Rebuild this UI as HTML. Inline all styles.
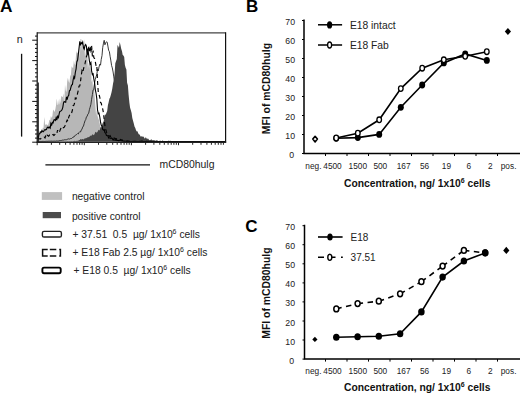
<!DOCTYPE html>
<html><head><meta charset="utf-8"><style>
html,body{margin:0;padding:0;background:#fff;width:520px;height:393px;overflow:hidden}
svg{display:block}
text{font-family:"Liberation Sans", sans-serif}
</style></head><body>
<svg width="520" height="393" viewBox="0 0 520 393">
<text x="0.1" y="12.3" font-size="17.3" font-weight="bold" fill="#000">A</text>
<path d="M37.6,141.6 L37.6,128.2 L38.3,136.6 L39.1,130.6 L39.8,132.0 L40.6,131.2 L41.3,129.9 L42.0,132.7 L42.8,127.7 L43.5,128.1 L44.3,117.0 L45.0,123.9 L45.7,124.9 L46.5,124.3 L47.2,124.8 L48.0,125.3 L48.7,122.9 L49.4,119.7 L50.2,120.6 L50.9,116.0 L51.7,118.0 L52.4,115.9 L53.1,109.6 L53.9,110.8 L54.6,112.1 L55.4,109.1 L56.1,104.9 L56.8,98.5 L57.6,105.3 L58.3,104.2 L59.1,98.5 L59.8,104.7 L60.5,101.4 L61.3,96.1 L62.0,96.4 L62.8,97.3 L63.5,93.2 L64.2,104.7 L65.0,84.8 L65.7,90.6 L66.5,91.9 L67.2,81.3 L67.9,77.7 L68.7,81.6 L69.4,83.0 L70.2,76.1 L70.9,75.0 L71.6,66.2 L72.4,67.6 L73.1,68.2 L73.9,60.4 L74.6,64.0 L75.3,64.9 L76.1,53.9 L76.8,51.2 L77.6,53.0 L78.3,53.2 L79.0,44.5 L79.8,59.0 L80.5,38.9 L81.3,39.2 L82.0,51.6 L82.7,41.7 L83.5,48.4 L84.2,39.1 L85.0,57.0 L85.7,52.8 L86.4,46.2 L87.2,47.0 L87.9,68.9 L88.7,63.2 L89.4,62.5 L90.1,71.3 L90.9,64.3 L91.6,82.3 L92.4,79.3 L93.1,90.2 L93.8,84.2 L94.6,95.7 L95.3,104.4 L96.1,115.8 L96.8,109.2 L97.5,115.7 L98.3,118.7 L99.0,120.0 L99.8,124.0 L100.5,128.1 L101.2,130.1 L102.0,131.6 L102.7,128.8 L103.5,135.3 L104.2,134.9 L104.9,135.4 L105.7,135.4 L106.4,135.7 L107.2,138.7 L107.9,139.8 L108.6,138.3 L109.4,137.5 L110.1,138.3 L110.9,139.1 L111.6,139.9 L112.3,139.6 L113.1,140.2 L113.8,139.7 L114.6,140.9 L115.3,140.5 L116.0,140.8 L116.8,140.5 L117.5,140.8 L118.3,139.9 L119.0,140.5 L119.7,140.7 L120.5,141.6 L121.2,141.5 L122.0,141.6 L122.7,141.4 L123.4,141.6 L124.2,141.5 L124.9,141.6 L125.7,141.6 L126.4,141.6 L127.1,141.6 L127.9,141.6 L128.6,141.6 L129.4,141.6 L130.1,141.6 L130.8,141.6 L131.6,141.6 L132.3,141.6 L133.1,141.6 L133.8,141.6 L134.5,141.6 L135.3,141.6 L136.0,141.6 L136.8,141.6 L137.5,141.6 L138.2,141.6 L139.0,141.6 L139.7,141.6 L140.5,141.6 L141.2,141.6 L141.9,141.6 L142.7,141.6 L143.4,141.6 L144.2,141.6 L144.9,141.6 L145.6,141.6 L146.4,141.6 L147.1,141.6 L147.9,141.6 L148.6,141.6 L149.3,141.6 L150.1,141.6 L150.8,141.6 L151.6,141.6 L152.3,141.6 L153.0,141.6 L153.8,141.6 L154.5,141.6 L155.3,141.6 L156.0,141.6 L156.7,141.6 L157.5,141.6 L158.2,141.6 L159.0,141.6 L159.7,141.6 L160.4,141.6 L161.2,141.6 L161.9,141.6 L162.7,141.6 L163.4,141.6 L164.1,141.6 L164.9,141.6 L165.6,141.6 L166.4,141.6 L167.1,141.6 L167.8,141.6 L168.6,141.6 L169.3,141.6 L170.1,141.6 L170.8,141.6 L171.5,141.6 L172.3,141.6 L173.0,141.6 L173.8,141.6 L174.5,141.6 L175.2,141.6 L176.0,141.6 L176.7,141.6 L177.5,141.6 L178.2,141.6 L178.9,141.6 L179.7,141.6 L180.4,141.6 L181.2,141.6 L181.9,141.6 L182.6,141.6 L183.4,141.6 L184.1,141.6 L184.9,141.6 L185.6,141.6 L186.3,141.6 L187.1,141.6 L187.8,141.6 L188.6,141.6 L189.3,141.6 L190.0,141.6 L190.8,141.6 L191.5,141.6 L192.3,141.6 L193.0,141.6 L193.7,141.6 L194.5,141.6 L195.2,141.6 L196.0,141.6 L196.7,141.6 L197.4,141.6 L198.2,141.6 L198.9,141.6 L199.7,141.6 L200.4,141.6 L201.1,141.6 L201.9,141.6 L202.6,141.6 L203.4,141.6 L204.1,141.6 L204.8,141.6 L205.6,141.6 L206.3,141.6 L207.1,141.6 L207.8,141.6 L208.5,141.6 L209.3,141.6 L210.0,141.6 L210.8,141.6 L211.5,141.6 L212.2,141.6 L213.0,141.6 L213.7,141.6 L214.5,141.6 L215.2,141.6 L215.9,141.6 L216.7,141.6 L217.4,141.6 L218.2,141.6 L218.9,141.6 L219.6,141.6 L220.4,141.6 L221.1,141.6 L221.9,141.6 L222.6,141.6 L223.3,141.6 L224.1,141.6 L224.8,141.6 L224.8,141.6 Z" fill="#b7b7b7"/>
<path d="M37.6,141.5 L38.3,141.4 L39.1,141.4 L39.8,141.5 L40.6,141.5 L41.3,141.5 L42.0,141.4 L42.8,141.4 L43.5,141.4 L44.3,141.5 L45.0,141.3 L45.7,141.4 L46.5,141.3 L47.2,141.3 L48.0,141.3 L48.7,141.2 L49.4,141.2 L50.2,141.2 L50.9,141.2 L51.7,141.1 L52.4,141.2 L53.1,141.3 L53.9,141.0 L54.6,141.1 L55.4,141.2 L56.1,141.0 L56.8,140.9 L57.6,141.0 L58.3,141.0 L59.1,140.7 L59.8,140.5 L60.5,140.5 L61.3,140.5 L62.0,140.2 L62.8,140.1 L63.5,140.1 L64.2,139.9 L65.0,139.6 L65.7,139.8 L66.5,139.7 L67.2,139.3 L67.9,139.2 L68.7,138.8 L69.4,139.1 L70.2,138.7 L70.9,138.5 L71.6,138.5 L72.4,137.6 L73.1,137.1 L73.9,137.1 L74.6,135.8 L75.3,135.4 L76.1,134.9 L76.8,134.4 L77.6,133.6 L78.3,134.0 L79.0,132.5 L79.8,131.7 L80.5,132.0 L81.3,130.0 L82.0,129.1 L82.7,127.1 L83.5,126.0 L84.2,123.4 L85.0,120.8 L85.7,119.7 L86.4,117.0 L87.2,116.1 L87.9,114.1 L88.7,113.2 L89.4,109.7 L90.1,107.3 L90.9,104.3 L91.6,99.3 L92.4,94.5 L93.1,89.9 L93.8,89.5 L94.6,82.7 L95.3,79.4 L96.1,76.6 L96.8,74.6 L97.5,69.3 L98.3,70.9 L99.0,67.0 L99.8,64.2 L100.5,65.2 L101.2,59.6 L102.0,55.6 L102.7,47.7 L103.5,43.1 L104.2,40.3 L104.9,44.8 L105.7,42.8 L106.4,41.8 L107.2,42.2 L107.9,46.1 L108.6,50.2 L109.4,51.7 L110.1,56.3 L110.9,60.9 L111.6,65.6 L112.3,67.9 L113.1,72.0 L113.8,76.9 L114.6,82.1 L115.3,88.6 L116.0,93.2 L116.8,97.2 L117.5,104.3 L118.3,111.2 L119.0,114.0 L119.7,118.6 L120.5,121.1 L121.2,125.4 L122.0,128.1 L122.7,130.6 L123.4,131.0 L124.2,132.1 L124.9,134.9 L125.7,135.9 L126.4,136.2 L127.1,137.4 L127.9,137.8 L128.6,138.4 L129.4,138.7 L130.1,139.0 L130.8,139.6 L131.6,139.7 L132.3,140.2 L133.1,140.3 L133.8,140.9 L134.5,140.9 L135.3,140.8 L136.0,141.1 L136.8,141.1 L137.5,141.3 L138.2,141.3 L139.0,141.4 L139.7,141.4 L140.5,141.5 L141.2,141.5 L141.9,141.5 L142.7,141.5 L143.4,141.6 L144.2,141.5 L144.9,141.5 L145.6,141.5 L146.4,141.5 L147.1,141.6 L147.9,141.5 L148.6,141.5 L149.3,141.5 L150.1,141.5 L150.8,141.6 L151.6,141.6 L152.3,141.5 L153.0,141.5 L153.8,141.5 L154.5,141.5 L155.3,141.6 L156.0,141.5 L156.7,141.5 L157.5,141.5 L158.2,141.5 L159.0,141.5 L159.7,141.5 L160.4,141.6 L161.2,141.6 L161.9,141.6 L162.7,141.6 L163.4,141.6 L164.1,141.5 L164.9,141.5 L165.6,141.6 L166.4,141.6 L167.1,141.6 L167.8,141.6 L168.6,141.6 L169.3,141.6 L170.1,141.6 L170.8,141.6 L171.5,141.6 L172.3,141.6 L173.0,141.6 L173.8,141.6 L174.5,141.6 L175.2,141.6 L176.0,141.6 L176.7,141.6 L177.5,141.6 L178.2,141.6 L178.9,141.6 L179.7,141.6 L180.4,141.6 L181.2,141.6 L181.9,141.6 L182.6,141.6 L183.4,141.6 L184.1,141.6 L184.9,141.6 L185.6,141.6 L186.3,141.6 L187.1,141.6 L187.8,141.6 L188.6,141.6 L189.3,141.6 L190.0,141.6 L190.8,141.6 L191.5,141.6 L192.3,141.6 L193.0,141.6 L193.7,141.6 L194.5,141.6 L195.2,141.6 L196.0,141.6 L196.7,141.6 L197.4,141.6 L198.2,141.6 L198.9,141.6 L199.7,141.6 L200.4,141.6 L201.1,141.6 L201.9,141.6 L202.6,141.6 L203.4,141.6 L204.1,141.6 L204.8,141.6 L205.6,141.6 L206.3,141.6 L207.1,141.6 L207.8,141.6 L208.5,141.6 L209.3,141.6 L210.0,141.6 L210.8,141.6 L211.5,141.6 L212.2,141.6 L213.0,141.6 L213.7,141.6 L214.5,141.6 L215.2,141.6 L215.9,141.6 L216.7,141.6 L217.4,141.6 L218.2,141.6 L218.9,141.6 L219.6,141.6 L220.4,141.6 L221.1,141.6 L221.9,141.6 L222.6,141.6 L223.3,141.6 L224.1,141.6 L224.8,141.6" fill="none" stroke="#222" stroke-width="0.9"/>
<path d="M37.6,141.6 L37.6,141.6 L38.3,141.6 L39.1,141.6 L39.8,141.6 L40.6,141.6 L41.3,141.6 L42.0,141.6 L42.8,141.6 L43.5,141.6 L44.3,141.6 L45.0,141.6 L45.7,141.6 L46.5,141.6 L47.2,141.6 L48.0,141.6 L48.7,141.6 L49.4,141.6 L50.2,141.6 L50.9,141.6 L51.7,141.6 L52.4,141.6 L53.1,141.6 L53.9,141.6 L54.6,141.6 L55.4,141.6 L56.1,141.6 L56.8,141.6 L57.6,141.6 L58.3,141.6 L59.1,141.6 L59.8,141.6 L60.5,141.6 L61.3,141.6 L62.0,141.6 L62.8,141.6 L63.5,141.6 L64.2,141.6 L65.0,141.6 L65.7,141.5 L66.5,141.6 L67.2,141.3 L67.9,141.3 L68.7,141.6 L69.4,141.3 L70.2,141.5 L70.9,141.3 L71.6,141.2 L72.4,141.6 L73.1,141.2 L73.9,141.1 L74.6,140.8 L75.3,141.3 L76.1,140.7 L76.8,141.1 L77.6,140.8 L78.3,140.8 L79.0,139.9 L79.8,140.0 L80.5,139.1 L81.3,139.6 L82.0,139.2 L82.7,139.0 L83.5,139.4 L84.2,138.9 L85.0,137.9 L85.7,138.5 L86.4,137.9 L87.2,137.8 L87.9,137.0 L88.7,137.3 L89.4,136.7 L90.1,135.9 L90.9,135.5 L91.6,135.7 L92.4,133.9 L93.1,135.2 L93.8,134.7 L94.6,134.3 L95.3,131.8 L96.1,132.4 L96.8,132.4 L97.5,132.0 L98.3,129.8 L99.0,130.6 L99.8,130.0 L100.5,127.0 L101.2,127.8 L102.0,125.2 L102.7,123.1 L103.5,121.7 L104.2,118.9 L104.9,114.4 L105.7,114.7 L106.4,113.0 L107.2,111.0 L107.9,105.2 L108.6,102.6 L109.4,98.8 L110.1,97.5 L110.9,94.7 L111.6,92.1 L112.3,88.4 L113.1,83.2 L113.8,80.0 L114.6,73.4 L115.3,63.3 L116.0,61.2 L116.8,59.1 L117.5,45.0 L118.3,46.2 L119.0,48.1 L119.7,41.9 L120.5,45.2 L121.2,48.8 L122.0,51.2 L122.7,54.9 L123.4,55.4 L124.2,56.9 L124.9,65.1 L125.7,67.9 L126.4,69.6 L127.1,82.7 L127.9,85.6 L128.6,94.8 L129.4,102.8 L130.1,107.7 L130.8,110.0 L131.6,112.9 L132.3,118.1 L133.1,121.0 L133.8,123.4 L134.5,126.4 L135.3,128.0 L136.0,130.2 L136.8,131.5 L137.5,131.3 L138.2,133.2 L139.0,134.4 L139.7,134.6 L140.5,136.4 L141.2,136.5 L141.9,136.2 L142.7,136.7 L143.4,136.5 L144.2,137.7 L144.9,138.8 L145.6,137.2 L146.4,138.0 L147.1,139.3 L147.9,138.3 L148.6,139.2 L149.3,140.2 L150.1,139.7 L150.8,139.9 L151.6,139.2 L152.3,140.3 L153.0,140.2 L153.8,140.3 L154.5,140.5 L155.3,140.7 L156.0,140.4 L156.7,140.3 L157.5,140.5 L158.2,141.0 L159.0,141.1 L159.7,140.8 L160.4,141.1 L161.2,141.1 L161.9,141.4 L162.7,140.6 L163.4,140.9 L164.1,141.3 L164.9,140.9 L165.6,140.9 L166.4,141.6 L167.1,141.3 L167.8,141.3 L168.6,141.1 L169.3,141.3 L170.1,141.3 L170.8,141.3 L171.5,141.1 L172.3,141.0 L173.0,141.4 L173.8,141.5 L174.5,141.0 L175.2,141.5 L176.0,141.5 L176.7,141.4 L177.5,141.4 L178.2,141.3 L178.9,141.4 L179.7,141.6 L180.4,141.4 L181.2,141.5 L181.9,141.3 L182.6,141.5 L183.4,141.6 L184.1,141.6 L184.9,141.4 L185.6,141.6 L186.3,141.6 L187.1,141.6 L187.8,141.5 L188.6,141.5 L189.3,141.6 L190.0,141.5 L190.8,141.5 L191.5,141.6 L192.3,141.6 L193.0,141.5 L193.7,141.5 L194.5,141.6 L195.2,141.6 L196.0,141.6 L196.7,141.6 L197.4,141.6 L198.2,141.6 L198.9,141.6 L199.7,141.6 L200.4,141.6 L201.1,141.6 L201.9,141.6 L202.6,141.6 L203.4,141.6 L204.1,141.6 L204.8,141.6 L205.6,141.6 L206.3,141.6 L207.1,141.6 L207.8,141.6 L208.5,141.6 L209.3,141.6 L210.0,141.6 L210.8,141.6 L211.5,141.6 L212.2,141.6 L213.0,141.6 L213.7,141.6 L214.5,141.6 L215.2,141.6 L215.9,141.6 L216.7,141.6 L217.4,141.6 L218.2,141.6 L218.9,141.6 L219.6,141.6 L220.4,141.6 L221.1,141.6 L221.9,141.6 L222.6,141.6 L223.3,141.6 L224.1,141.6 L224.8,141.6 L224.8,141.6 Z" fill="#444"/>
<path d="M37.6,138.6 L38.3,138.7 L39.1,138.8 L39.8,138.9 L40.6,139.0 L41.3,138.0 L42.0,138.1 L42.8,137.9 L43.5,137.4 L44.3,137.1 L45.0,137.9 L45.7,136.1 L46.5,137.4 L47.2,135.2 L48.0,135.7 L48.7,136.2 L49.4,135.1 L50.2,135.7 L50.9,135.2 L51.7,135.4 L52.4,134.7 L53.1,134.5 L53.9,135.4 L54.6,134.9 L55.4,133.6 L56.1,133.1 L56.8,133.7 L57.6,130.1 L58.3,132.6 L59.1,132.1 L59.8,131.0 L60.5,129.1 L61.3,127.7 L62.0,128.9 L62.8,128.5 L63.5,127.5 L64.2,127.3 L65.0,125.7 L65.7,124.9 L66.5,121.7 L67.2,120.0 L67.9,121.3 L68.7,117.3 L69.4,115.6 L70.2,113.9 L70.9,114.2 L71.6,113.0 L72.4,110.1 L73.1,105.7 L73.9,105.2 L74.6,102.9 L75.3,98.0 L76.1,98.6 L76.8,96.7 L77.6,93.2 L78.3,90.3 L79.0,86.2 L79.8,85.8 L80.5,81.6 L81.3,75.0 L82.0,70.8 L82.7,72.5 L83.5,69.0 L84.2,65.8 L85.0,63.7 L85.7,60.4 L86.4,56.7 L87.2,54.6 L87.9,52.6 L88.7,46.9 L89.4,51.1 L90.1,46.0 L90.9,53.2 L91.6,45.8 L92.4,56.4 L93.1,50.6 L93.8,57.5 L94.6,58.6 L95.3,61.6 L96.1,66.0 L96.8,65.3 L97.5,80.8 L98.3,92.7 L99.0,94.4 L99.8,97.3 L100.5,102.4 L101.2,103.1 L102.0,106.6 L102.7,108.9 L103.5,113.2 L104.2,119.8 L104.9,125.5 L105.7,129.2 L106.4,131.7 L107.2,134.2 L107.9,134.8 L108.6,135.7 L109.4,136.3 L110.1,135.7 L110.9,137.4 L111.6,137.4 L112.3,137.2 L113.1,138.0 L113.8,138.2 L114.6,138.1 L115.3,138.7 L116.0,138.9 L116.8,138.9 L117.5,139.1 L118.3,139.6 L119.0,139.9 L119.7,139.7 L120.5,139.4 L121.2,140.0 L122.0,139.8 L122.7,140.2 L123.4,140.5 L124.2,141.2 L124.9,140.7 L125.7,140.9 L126.4,141.3 L127.1,141.0 L127.9,141.2 L128.6,141.2 L129.4,141.4 L130.1,141.3 L130.8,141.4 L131.6,141.2 L132.3,141.3 L133.1,141.5 L133.8,141.3 L134.5,141.3 L135.3,141.4 L136.0,141.5 L136.8,141.2 L137.5,141.4 L138.2,141.2 L139.0,141.4 L139.7,141.4 L140.5,141.4 L141.2,141.4 L141.9,141.1 L142.7,141.4 L143.4,141.2 L144.2,141.3 L144.9,141.5 L145.6,141.3 L146.4,141.3 L147.1,141.3 L147.9,141.5 L148.6,141.4 L149.3,141.5 L150.1,141.5 L150.8,141.5 L151.6,141.4 L152.3,141.3 L153.0,141.4 L153.8,141.6 L154.5,141.4 L155.3,141.5 L156.0,141.5 L156.7,141.6 L157.5,141.4 L158.2,141.5 L159.0,141.4 L159.7,141.5 L160.4,141.4 L161.2,141.5 L161.9,141.6 L162.7,141.4 L163.4,141.5 L164.1,141.5 L164.9,141.5 L165.6,141.6 L166.4,141.6 L167.1,141.6 L167.8,141.5 L168.6,141.4 L169.3,141.5 L170.1,141.4 L170.8,141.6 L171.5,141.5 L172.3,141.6 L173.0,141.5 L173.8,141.5 L174.5,141.5 L175.2,141.5 L176.0,141.5 L176.7,141.6 L177.5,141.6 L178.2,141.5 L178.9,141.4 L179.7,141.6 L180.4,141.5 L181.2,141.6 L181.9,141.6 L182.6,141.6 L183.4,141.5 L184.1,141.6 L184.9,141.6 L185.6,141.6 L186.3,141.5 L187.1,141.6 L187.8,141.6 L188.6,141.6 L189.3,141.6 L190.0,141.6 L190.8,141.6 L191.5,141.6 L192.3,141.6 L193.0,141.6 L193.7,141.6 L194.5,141.6 L195.2,141.6 L196.0,141.6 L196.7,141.6 L197.4,141.6 L198.2,141.6 L198.9,141.6 L199.7,141.6 L200.4,141.6 L201.1,141.6 L201.9,141.6 L202.6,141.6 L203.4,141.6 L204.1,141.6 L204.8,141.6 L205.6,141.6 L206.3,141.6 L207.1,141.6 L207.8,141.6 L208.5,141.6 L209.3,141.6 L210.0,141.6 L210.8,141.6 L211.5,141.6 L212.2,141.6 L213.0,141.6 L213.7,141.6 L214.5,141.6 L215.2,141.6 L215.9,141.6 L216.7,141.6 L217.4,141.6 L218.2,141.6 L218.9,141.6 L219.6,141.6 L220.4,141.6 L221.1,141.6 L221.9,141.6 L222.6,141.6 L223.3,141.6 L224.1,141.6 L224.8,141.6" fill="none" stroke="#000" stroke-width="1.15" stroke-dasharray="4,3"/>
<path d="M37.6,135.8 L38.3,137.8 L39.1,133.7 L39.8,133.7 L40.6,132.0 L41.3,132.3 L42.0,130.5 L42.8,131.7 L43.5,131.7 L44.3,130.1 L45.0,129.7 L45.7,129.9 L46.5,129.3 L47.2,127.7 L48.0,127.1 L48.7,127.9 L49.4,127.1 L50.2,128.2 L50.9,123.4 L51.7,125.0 L52.4,122.4 L53.1,122.8 L53.9,120.0 L54.6,119.7 L55.4,120.4 L56.1,117.8 L56.8,120.1 L57.6,115.6 L58.3,118.3 L59.1,114.1 L59.8,111.4 L60.5,111.3 L61.3,110.7 L62.0,109.8 L62.8,107.3 L63.5,103.0 L64.2,101.5 L65.0,101.9 L65.7,102.2 L66.5,96.8 L67.2,99.6 L67.9,96.4 L68.7,95.4 L69.4,90.8 L70.2,90.1 L70.9,87.3 L71.6,85.0 L72.4,84.7 L73.1,80.2 L73.9,76.7 L74.6,78.1 L75.3,72.6 L76.1,68.8 L76.8,62.0 L77.6,60.0 L78.3,54.4 L79.0,48.8 L79.8,41.3 L80.5,44.5 L81.3,42.8 L82.0,43.7 L82.7,42.0 L83.5,47.9 L84.2,49.2 L85.0,45.6 L85.7,44.6 L86.4,46.1 L87.2,54.5 L87.9,48.6 L88.7,55.5 L89.4,60.8 L90.1,64.1 L90.9,62.6 L91.6,70.9 L92.4,74.6 L93.1,73.9 L93.8,78.7 L94.6,82.9 L95.3,89.6 L96.1,93.5 L96.8,98.8 L97.5,109.8 L98.3,113.7 L99.0,113.2 L99.8,117.0 L100.5,121.9 L101.2,125.1 L102.0,126.3 L102.7,129.4 L103.5,130.1 L104.2,129.7 L104.9,132.7 L105.7,133.1 L106.4,135.3 L107.2,135.7 L107.9,135.7 L108.6,138.0 L109.4,137.8 L110.1,138.1 L110.9,138.3 L111.6,138.0 L112.3,138.7 L113.1,140.0 L113.8,139.7 L114.6,140.1 L115.3,140.3 L116.0,139.3 L116.8,140.6 L117.5,140.3 L118.3,140.8 L119.0,140.4 L119.7,140.7 L120.5,140.8 L121.2,141.0 L122.0,140.8 L122.7,141.3 L123.4,141.3 L124.2,141.4 L124.9,141.0 L125.7,141.3 L126.4,141.5 L127.1,141.4 L127.9,141.1 L128.6,141.5 L129.4,141.4 L130.1,141.5 L130.8,141.5 L131.6,141.6 L132.3,141.6 L133.1,141.6 L133.8,141.6 L134.5,141.6 L135.3,141.6 L136.0,141.6 L136.8,141.6 L137.5,141.6 L138.2,141.6 L139.0,141.6 L139.7,141.6 L140.5,141.6 L141.2,141.6 L141.9,141.6 L142.7,141.6 L143.4,141.6 L144.2,141.6 L144.9,141.6 L145.6,141.6 L146.4,141.6 L147.1,141.6 L147.9,141.6 L148.6,141.6 L149.3,141.6 L150.1,141.6 L150.8,141.6 L151.6,141.6 L152.3,141.6 L153.0,141.6 L153.8,141.6 L154.5,141.6 L155.3,141.6 L156.0,141.6 L156.7,141.6 L157.5,141.6 L158.2,141.6 L159.0,141.6 L159.7,141.6 L160.4,141.6 L161.2,141.6 L161.9,141.6 L162.7,141.6 L163.4,141.6 L164.1,141.6 L164.9,141.6 L165.6,141.6 L166.4,141.6 L167.1,141.6 L167.8,141.6 L168.6,141.6 L169.3,141.6 L170.1,141.6 L170.8,141.6 L171.5,141.6 L172.3,141.6 L173.0,141.6 L173.8,141.6 L174.5,141.6 L175.2,141.6 L176.0,141.6 L176.7,141.6 L177.5,141.6 L178.2,141.6 L178.9,141.6 L179.7,141.6 L180.4,141.6 L181.2,141.6 L181.9,141.6 L182.6,141.6 L183.4,141.6 L184.1,141.6 L184.9,141.6 L185.6,141.6 L186.3,141.6 L187.1,141.6 L187.8,141.6 L188.6,141.6 L189.3,141.6 L190.0,141.6 L190.8,141.6 L191.5,141.6 L192.3,141.6 L193.0,141.6 L193.7,141.6 L194.5,141.6 L195.2,141.6 L196.0,141.6 L196.7,141.6 L197.4,141.6 L198.2,141.6 L198.9,141.6 L199.7,141.6 L200.4,141.6 L201.1,141.6 L201.9,141.6 L202.6,141.6 L203.4,141.6 L204.1,141.6 L204.8,141.6 L205.6,141.6 L206.3,141.6 L207.1,141.6 L207.8,141.6 L208.5,141.6 L209.3,141.6 L210.0,141.6 L210.8,141.6 L211.5,141.6 L212.2,141.6 L213.0,141.6 L213.7,141.6 L214.5,141.6 L215.2,141.6 L215.9,141.6 L216.7,141.6 L217.4,141.6 L218.2,141.6 L218.9,141.6 L219.6,141.6 L220.4,141.6 L221.1,141.6 L221.9,141.6 L222.6,141.6 L223.3,141.6 L224.1,141.6 L224.8,141.6" fill="none" stroke="#000" stroke-width="1.1"/>
<path d="M38.2,82.4 V142" stroke="#111" stroke-width="1.2"/>
<path d="M37.2,32.9 H225.6" stroke="#444" stroke-width="1.3"/>
<path d="M37.2,32.3 V142.6 M225.6,32.3 V142.6" stroke="#111" stroke-width="1.2"/>
<path d="M36.6,142.2 H226.2" stroke="#222" stroke-width="1.4"/>
<path d="M32.2,142.2 H37.2" stroke="#111" stroke-width="1"/>
<path d="M35.0,138.1 H37.2" stroke="#111" stroke-width="1"/>
<path d="M35.0,134.0 H37.2" stroke="#111" stroke-width="1"/>
<path d="M35.0,130.0 H37.2" stroke="#111" stroke-width="1"/>
<path d="M35.0,125.9 H37.2" stroke="#111" stroke-width="1"/>
<path d="M32.2,121.8 H37.2" stroke="#111" stroke-width="1"/>
<path d="M35.0,117.7 H37.2" stroke="#111" stroke-width="1"/>
<path d="M35.0,113.6 H37.2" stroke="#111" stroke-width="1"/>
<path d="M35.0,109.6 H37.2" stroke="#111" stroke-width="1"/>
<path d="M35.0,105.5 H37.2" stroke="#111" stroke-width="1"/>
<path d="M32.2,101.4 H37.2" stroke="#111" stroke-width="1"/>
<path d="M35.0,97.3 H37.2" stroke="#111" stroke-width="1"/>
<path d="M35.0,93.2 H37.2" stroke="#111" stroke-width="1"/>
<path d="M35.0,89.2 H37.2" stroke="#111" stroke-width="1"/>
<path d="M35.0,85.1 H37.2" stroke="#111" stroke-width="1"/>
<path d="M32.2,81.0 H37.2" stroke="#111" stroke-width="1"/>
<path d="M35.0,76.9 H37.2" stroke="#111" stroke-width="1"/>
<path d="M35.0,72.8 H37.2" stroke="#111" stroke-width="1"/>
<path d="M35.0,68.8 H37.2" stroke="#111" stroke-width="1"/>
<path d="M35.0,64.7 H37.2" stroke="#111" stroke-width="1"/>
<path d="M32.2,60.6 H37.2" stroke="#111" stroke-width="1"/>
<path d="M35.0,56.5 H37.2" stroke="#111" stroke-width="1"/>
<path d="M35.0,52.4 H37.2" stroke="#111" stroke-width="1"/>
<path d="M35.0,48.4 H37.2" stroke="#111" stroke-width="1"/>
<path d="M35.0,44.3 H37.2" stroke="#111" stroke-width="1"/>
<path d="M32.2,40.2 H37.2" stroke="#111" stroke-width="1"/>
<path d="M35.0,36.1 H37.2" stroke="#111" stroke-width="1"/>
<path d="M37.2,142.2 V145.2" stroke="#222" stroke-width="1"/>
<path d="M51.4,142.2 V144.8" stroke="#222" stroke-width="1"/>
<path d="M59.7,142.2 V144.8" stroke="#222" stroke-width="1"/>
<path d="M65.6,142.2 V144.8" stroke="#222" stroke-width="1"/>
<path d="M70.1,142.2 V144.8" stroke="#222" stroke-width="1"/>
<path d="M73.9,142.2 V144.8" stroke="#222" stroke-width="1"/>
<path d="M77.0,142.2 V144.8" stroke="#222" stroke-width="1"/>
<path d="M79.7,142.2 V144.8" stroke="#222" stroke-width="1"/>
<path d="M82.1,142.2 V144.8" stroke="#222" stroke-width="1"/>
<path d="M84.3,142.2 V145.2" stroke="#222" stroke-width="1"/>
<path d="M98.5,142.2 V144.8" stroke="#222" stroke-width="1"/>
<path d="M106.8,142.2 V144.8" stroke="#222" stroke-width="1"/>
<path d="M112.7,142.2 V144.8" stroke="#222" stroke-width="1"/>
<path d="M117.2,142.2 V144.8" stroke="#222" stroke-width="1"/>
<path d="M121.0,142.2 V144.8" stroke="#222" stroke-width="1"/>
<path d="M124.1,142.2 V144.8" stroke="#222" stroke-width="1"/>
<path d="M126.8,142.2 V144.8" stroke="#222" stroke-width="1"/>
<path d="M129.2,142.2 V144.8" stroke="#222" stroke-width="1"/>
<path d="M131.4,142.2 V145.2" stroke="#222" stroke-width="1"/>
<path d="M145.6,142.2 V144.8" stroke="#222" stroke-width="1"/>
<path d="M153.9,142.2 V144.8" stroke="#222" stroke-width="1"/>
<path d="M159.8,142.2 V144.8" stroke="#222" stroke-width="1"/>
<path d="M164.3,142.2 V144.8" stroke="#222" stroke-width="1"/>
<path d="M168.1,142.2 V144.8" stroke="#222" stroke-width="1"/>
<path d="M171.2,142.2 V144.8" stroke="#222" stroke-width="1"/>
<path d="M173.9,142.2 V144.8" stroke="#222" stroke-width="1"/>
<path d="M176.3,142.2 V144.8" stroke="#222" stroke-width="1"/>
<path d="M178.5,142.2 V145.2" stroke="#222" stroke-width="1"/>
<path d="M192.7,142.2 V144.8" stroke="#222" stroke-width="1"/>
<path d="M201.0,142.2 V144.8" stroke="#222" stroke-width="1"/>
<path d="M206.9,142.2 V144.8" stroke="#222" stroke-width="1"/>
<path d="M211.4,142.2 V144.8" stroke="#222" stroke-width="1"/>
<path d="M215.2,142.2 V144.8" stroke="#222" stroke-width="1"/>
<path d="M218.3,142.2 V144.8" stroke="#222" stroke-width="1"/>
<path d="M221.0,142.2 V144.8" stroke="#222" stroke-width="1"/>
<path d="M223.4,142.2 V144.8" stroke="#222" stroke-width="1"/>
<text x="16.7" y="42.8" font-size="10.8" fill="#222">n</text>
<path d="M21.6,53.8 V136.6" stroke="#111" stroke-width="1.3"/>
<path d="M45.4,164.8 H150" stroke="#111" stroke-width="1.3"/>
<text x="159.6" y="168.2" font-size="10.4" fill="#222">mCD80hulg</text>
<rect x="41.8" y="192.1" width="20.3" height="7.8" fill="#c0c0c0"/>
<rect x="42.7" y="212" width="18.3" height="6.2" fill="#4c4c4c"/>
<text x="71.9" y="200.4" font-size="10.3" fill="#222">negative control</text>
<text x="71.9" y="219.6" font-size="10.3" fill="#222">positive control</text>
<rect x="42.4" y="231.4" width="19" height="5.6" rx="1.6" fill="none" stroke="#222" stroke-width="1.4"/>
<path d="M47.7,249.6 H42.6 V255.9 H47.7 M49.8,249.6 H56.3 M49.8,255.9 H56.3 M59.2,249.6 H60.4 V255.9 H59.2" fill="none" stroke="#111" stroke-width="1.5"/>
<rect x="42.4" y="267.6" width="18.3" height="5.6" rx="1.6" fill="none" stroke="#000" stroke-width="1.9"/>
<text x="72.5" y="238.1" font-size="10.3" fill="#222" xml:space="preserve">+ 37.51  0.5  µg/ 1x10<tspan font-size="7" dy="-4">6</tspan><tspan dy="4"> cells</tspan></text>
<text x="72.5" y="256.3" font-size="10.3" fill="#222" xml:space="preserve">+ E18 Fab 2.5 µg/ 1x10<tspan font-size="7" dy="-4">6</tspan><tspan dy="4"> cells</tspan></text>
<text x="73.5" y="273.5" font-size="10.3" fill="#222" xml:space="preserve">+ E18 0.5  µg/ 1x10<tspan font-size="7" dy="-4">6</tspan><tspan dy="4"> cells</tspan></text>
<path d="M304,19.5 V153.5 H520" fill="none" stroke="#000" stroke-width="1.5"/>
<path d="M302,153.5 H304" stroke="#000" stroke-width="1"/>
<text transform="translate(294.2,158.0) scale(0.9,1)" text-anchor="end" font-size="9.7" fill="#222">0</text>
<path d="M302,134.5 H304" stroke="#000" stroke-width="1"/>
<text transform="translate(295.0,139.0) scale(0.9,1)" text-anchor="end" font-size="9.7" fill="#222">10</text>
<path d="M302,115.5 H304" stroke="#000" stroke-width="1"/>
<text transform="translate(295.0,120.0) scale(0.9,1)" text-anchor="end" font-size="9.7" fill="#222">20</text>
<path d="M302,96.5 H304" stroke="#000" stroke-width="1"/>
<text transform="translate(295.0,101.0) scale(0.9,1)" text-anchor="end" font-size="9.7" fill="#222">30</text>
<path d="M302,77.5 H304" stroke="#000" stroke-width="1"/>
<text transform="translate(295.0,82.0) scale(0.9,1)" text-anchor="end" font-size="9.7" fill="#222">40</text>
<path d="M302,58.5 H304" stroke="#000" stroke-width="1"/>
<text transform="translate(295.0,63.0) scale(0.9,1)" text-anchor="end" font-size="9.7" fill="#222">50</text>
<path d="M302,39.5 H304" stroke="#000" stroke-width="1"/>
<text transform="translate(295.0,44.0) scale(0.9,1)" text-anchor="end" font-size="9.7" fill="#222">60</text>
<path d="M302,20.5 H304" stroke="#000" stroke-width="1"/>
<text transform="translate(295.0,25.0) scale(0.9,1)" text-anchor="end" font-size="9.7" fill="#222">70</text>
<path d="M325.5,153.5 V156.0" stroke="#000" stroke-width="1"/>
<path d="M347.0,153.5 V156.0" stroke="#000" stroke-width="1"/>
<path d="M368.5,153.5 V156.0" stroke="#000" stroke-width="1"/>
<path d="M390.0,153.5 V156.0" stroke="#000" stroke-width="1"/>
<path d="M411.5,153.5 V156.0" stroke="#000" stroke-width="1"/>
<path d="M433.0,153.5 V156.0" stroke="#000" stroke-width="1"/>
<path d="M454.5,153.5 V156.0" stroke="#000" stroke-width="1"/>
<path d="M476.0,153.5 V156.0" stroke="#000" stroke-width="1"/>
<path d="M497.5,153.5 V156.0" stroke="#000" stroke-width="1"/>
<text x="313.4" y="169.0" text-anchor="middle" font-size="8.3" fill="#222">neg.</text>
<text x="332.5" y="169.0" text-anchor="middle" font-size="8.3" fill="#222">4500</text>
<text x="357.8" y="169.0" text-anchor="middle" font-size="8.3" fill="#222">1500</text>
<text x="380.3" y="169.0" text-anchor="middle" font-size="8.3" fill="#222">500</text>
<text x="403.6" y="169.0" text-anchor="middle" font-size="8.3" fill="#222">167</text>
<text x="424.6" y="169.0" text-anchor="middle" font-size="8.3" fill="#222">56</text>
<text x="446.4" y="169.0" text-anchor="middle" font-size="8.3" fill="#222">19</text>
<text x="468.7" y="169.0" text-anchor="middle" font-size="8.3" fill="#222">6</text>
<text x="490.4" y="169.0" text-anchor="middle" font-size="8.3" fill="#222">2</text>
<text x="508.6" y="169.0" text-anchor="middle" font-size="8.3" fill="#222">pos.</text>
<text x="344" y="186.5" font-size="10.3" font-weight="bold" fill="#111">Concentration, ng/ 1x10<tspan font-size="7" dy="-4">6</tspan><tspan dy="4"> cells</tspan></text>
<text transform="translate(270.2,88.6) rotate(-90)" text-anchor="middle" font-size="10.4" font-weight="bold" fill="#111">MFI of mCD80hulg</text>
<text x="246.1" y="12.1" font-size="17" font-weight="bold" fill="#000">B</text>
<path d="M336.2,138.3 L357.8,137.6 L379.2,134.4 L400.8,107.3 L422.2,85.0 L443.8,62.9 L465.2,53.9 L486.8,60.4" stroke="#000" stroke-width="1.6" fill="none"/>
<ellipse cx="336.2" cy="138.3" rx="3.0" ry="3.4" fill="#000"/>
<ellipse cx="357.8" cy="137.6" rx="3.0" ry="3.4" fill="#000"/>
<ellipse cx="379.2" cy="134.4" rx="3.0" ry="3.4" fill="#000"/>
<ellipse cx="400.8" cy="107.3" rx="3.0" ry="3.4" fill="#000"/>
<ellipse cx="422.2" cy="85.0" rx="3.0" ry="3.4" fill="#000"/>
<ellipse cx="443.8" cy="62.9" rx="3.0" ry="3.4" fill="#000"/>
<ellipse cx="465.2" cy="53.9" rx="3.0" ry="3.4" fill="#000"/>
<ellipse cx="486.8" cy="60.4" rx="3.0" ry="3.4" fill="#000"/>
<path d="M336.2,138.0 L357.8,133.2 L379.2,119.8 L400.8,88.6 L422.2,68.2 L443.8,59.8 L465.2,56.3 L486.8,51.7" stroke="#000" stroke-width="1.6" fill="none"/>
<ellipse cx="336.2" cy="138.0" rx="2.3" ry="2.8" fill="#fff" stroke="#000" stroke-width="1.3"/>
<ellipse cx="357.8" cy="133.2" rx="2.3" ry="2.8" fill="#fff" stroke="#000" stroke-width="1.3"/>
<ellipse cx="379.2" cy="119.8" rx="2.3" ry="2.8" fill="#fff" stroke="#000" stroke-width="1.3"/>
<ellipse cx="400.8" cy="88.6" rx="2.3" ry="2.8" fill="#fff" stroke="#000" stroke-width="1.3"/>
<ellipse cx="422.2" cy="68.2" rx="2.3" ry="2.8" fill="#fff" stroke="#000" stroke-width="1.3"/>
<ellipse cx="443.8" cy="59.8" rx="2.3" ry="2.8" fill="#fff" stroke="#000" stroke-width="1.3"/>
<ellipse cx="465.2" cy="56.3" rx="2.3" ry="2.8" fill="#fff" stroke="#000" stroke-width="1.3"/>
<ellipse cx="486.8" cy="51.7" rx="2.3" ry="2.8" fill="#fff" stroke="#000" stroke-width="1.3"/>
<path d="M315.1,136.3 L317.4,139.1 L315.1,141.9 L312.8,139.1 Z" fill="#fff" stroke="#000" stroke-width="1.6" stroke-linejoin="round"/>
<path d="M507.9,27.9 L511.0,31.5 L507.9,35.1 L504.8,31.5 Z" fill="#000"/>
<path d="M318,24.8 H342.1" stroke="#000" stroke-width="1.5"/>
<ellipse cx="329.6" cy="24.9" rx="2.6" ry="3.6" fill="#000"/>
<text x="349.9" y="29.2" font-size="10.3" fill="#222">E18 intact</text>
<path d="M318,45 H342.1" stroke="#000" stroke-width="1.5"/>
<ellipse cx="329.6" cy="45" rx="2.0" ry="3.0" fill="#fff" stroke="#000" stroke-width="1.3"/>
<text x="349.9" y="49.3" font-size="10.3" fill="#222">E18 Fab</text>
<path d="M304.5,224.7 V359.1 H520" fill="none" stroke="#000" stroke-width="1.5"/>
<path d="M302.5,359.1 H304.5" stroke="#000" stroke-width="1"/>
<text transform="translate(294.2,363.6) scale(0.9,1)" text-anchor="end" font-size="9.7" fill="#222">0</text>
<path d="M302.5,340.0 H304.5" stroke="#000" stroke-width="1"/>
<text transform="translate(295.0,344.5) scale(0.9,1)" text-anchor="end" font-size="9.7" fill="#222">10</text>
<path d="M302.5,321.0 H304.5" stroke="#000" stroke-width="1"/>
<text transform="translate(295.0,325.5) scale(0.9,1)" text-anchor="end" font-size="9.7" fill="#222">20</text>
<path d="M302.5,301.9 H304.5" stroke="#000" stroke-width="1"/>
<text transform="translate(295.0,306.4) scale(0.9,1)" text-anchor="end" font-size="9.7" fill="#222">30</text>
<path d="M302.5,282.9 H304.5" stroke="#000" stroke-width="1"/>
<text transform="translate(295.0,287.4) scale(0.9,1)" text-anchor="end" font-size="9.7" fill="#222">40</text>
<path d="M302.5,263.8 H304.5" stroke="#000" stroke-width="1"/>
<text transform="translate(295.0,268.3) scale(0.9,1)" text-anchor="end" font-size="9.7" fill="#222">50</text>
<path d="M302.5,244.7 H304.5" stroke="#000" stroke-width="1"/>
<text transform="translate(295.0,249.2) scale(0.9,1)" text-anchor="end" font-size="9.7" fill="#222">60</text>
<path d="M302.5,225.7 H304.5" stroke="#000" stroke-width="1"/>
<text transform="translate(295.0,230.2) scale(0.9,1)" text-anchor="end" font-size="9.7" fill="#222">70</text>
<path d="M325.5,359.1 V361.6" stroke="#000" stroke-width="1"/>
<path d="M347.0,359.1 V361.6" stroke="#000" stroke-width="1"/>
<path d="M368.5,359.1 V361.6" stroke="#000" stroke-width="1"/>
<path d="M390.0,359.1 V361.6" stroke="#000" stroke-width="1"/>
<path d="M411.5,359.1 V361.6" stroke="#000" stroke-width="1"/>
<path d="M433.0,359.1 V361.6" stroke="#000" stroke-width="1"/>
<path d="M454.5,359.1 V361.6" stroke="#000" stroke-width="1"/>
<path d="M476.0,359.1 V361.6" stroke="#000" stroke-width="1"/>
<path d="M497.5,359.1 V361.6" stroke="#000" stroke-width="1"/>
<text x="313.4" y="374.0" text-anchor="middle" font-size="8.3" fill="#222">neg.</text>
<text x="332.5" y="374.0" text-anchor="middle" font-size="8.3" fill="#222">4500</text>
<text x="357.8" y="374.0" text-anchor="middle" font-size="8.3" fill="#222">1500</text>
<text x="380.3" y="374.0" text-anchor="middle" font-size="8.3" fill="#222">500</text>
<text x="403.6" y="374.0" text-anchor="middle" font-size="8.3" fill="#222">167</text>
<text x="424.6" y="374.0" text-anchor="middle" font-size="8.3" fill="#222">56</text>
<text x="446.4" y="374.0" text-anchor="middle" font-size="8.3" fill="#222">19</text>
<text x="468.7" y="374.0" text-anchor="middle" font-size="8.3" fill="#222">6</text>
<text x="490.4" y="374.0" text-anchor="middle" font-size="8.3" fill="#222">2</text>
<text x="508.6" y="374.0" text-anchor="middle" font-size="8.3" fill="#222">pos.</text>
<text x="344" y="390.6" font-size="10.3" font-weight="bold" fill="#111">Concentration, ng/ 1x10<tspan font-size="7" dy="-4">6</tspan><tspan dy="4"> cells</tspan></text>
<text transform="translate(270.2,293.1) rotate(-90)" text-anchor="middle" font-size="10.4" font-weight="bold" fill="#111">MFI of mCD80hulg</text>
<text x="245.2" y="232.4" font-size="17" font-weight="bold" fill="#000">C</text>
<path d="M336.3,308.9 L357.6,303.6" stroke="#000" stroke-width="1.6" stroke-dasharray="5.5,4.5" fill="none"/>
<path d="M357.6,303.6 L378.8,301.2" stroke="#000" stroke-width="1.6" stroke-dasharray="5.5,4.5" fill="none"/>
<path d="M378.8,301.2 L400.1,293.8" stroke="#000" stroke-width="1.6" stroke-dasharray="5.5,4.5" fill="none"/>
<path d="M400.1,293.8 L421.4,281.7" stroke="#000" stroke-width="1.6" stroke-dasharray="5.5,4.5" fill="none"/>
<path d="M421.4,281.7 L442.6,266.1" stroke="#000" stroke-width="1.6" stroke-dasharray="5.5,4.5" fill="none"/>
<path d="M442.6,266.1 L463.9,250.4" stroke="#000" stroke-width="1.6" stroke-dasharray="5.5,4.5" fill="none"/>
<path d="M463.9,250.4 L485.2,252.9" stroke="#000" stroke-width="1.6" stroke-dasharray="5.5,4.5" fill="none"/>
<ellipse cx="336.3" cy="308.9" rx="2.5" ry="2.85" fill="#fff" stroke="#000" stroke-width="1.5"/>
<ellipse cx="357.6" cy="303.6" rx="2.5" ry="2.85" fill="#fff" stroke="#000" stroke-width="1.5"/>
<ellipse cx="378.8" cy="301.2" rx="2.5" ry="2.85" fill="#fff" stroke="#000" stroke-width="1.5"/>
<ellipse cx="400.1" cy="293.8" rx="2.5" ry="2.85" fill="#fff" stroke="#000" stroke-width="1.5"/>
<ellipse cx="421.4" cy="281.7" rx="2.5" ry="2.85" fill="#fff" stroke="#000" stroke-width="1.5"/>
<ellipse cx="442.6" cy="266.1" rx="2.5" ry="2.85" fill="#fff" stroke="#000" stroke-width="1.5"/>
<ellipse cx="463.9" cy="250.4" rx="2.5" ry="2.85" fill="#fff" stroke="#000" stroke-width="1.5"/>
<ellipse cx="485.2" cy="252.9" rx="2.5" ry="2.85" fill="#fff" stroke="#000" stroke-width="1.5"/>
<path d="M336.3,337.2 L357.6,336.8 L378.8,336.2 L400.1,333.7 L421.4,311.9 L442.6,277.1 L463.9,261.0 L485.2,252.9" stroke="#000" stroke-width="1.6" fill="none"/>
<ellipse cx="336.3" cy="337.2" rx="3.25" ry="3.55" fill="#000"/>
<ellipse cx="357.6" cy="336.8" rx="3.25" ry="3.55" fill="#000"/>
<ellipse cx="378.8" cy="336.2" rx="3.25" ry="3.55" fill="#000"/>
<ellipse cx="400.1" cy="333.7" rx="3.25" ry="3.55" fill="#000"/>
<ellipse cx="421.4" cy="311.9" rx="3.25" ry="3.55" fill="#000"/>
<ellipse cx="442.6" cy="277.1" rx="3.25" ry="3.55" fill="#000"/>
<ellipse cx="463.9" cy="261.0" rx="3.25" ry="3.55" fill="#000"/>
<ellipse cx="485.2" cy="252.9" rx="3.25" ry="3.55" fill="#000"/>
<path d="M314.9,336.8 L317.5,339.4 L314.9,342.0 L312.3,339.4 Z" fill="#000"/>
<path d="M506.3,246.8 L509.4,250.4 L506.3,254.0 L503.2,250.4 Z" fill="#000"/>
<path d="M318,237 H342.6" stroke="#000" stroke-width="1.6"/>
<ellipse cx="330" cy="237" rx="2.7" ry="3.6" fill="#000"/>
<text x="350.6" y="241.2" font-size="10" fill="#222">E18</text>
<path d="M318,257.3 H342.8" stroke="#000" stroke-width="1.6" stroke-dasharray="6,5.5"/>
<ellipse cx="329.8" cy="257.3" rx="2.0" ry="3.1" fill="#fff" stroke="#000" stroke-width="1.4"/>
<text x="350.6" y="261.2" font-size="10" fill="#222">37.51</text>
</svg>
</body></html>
